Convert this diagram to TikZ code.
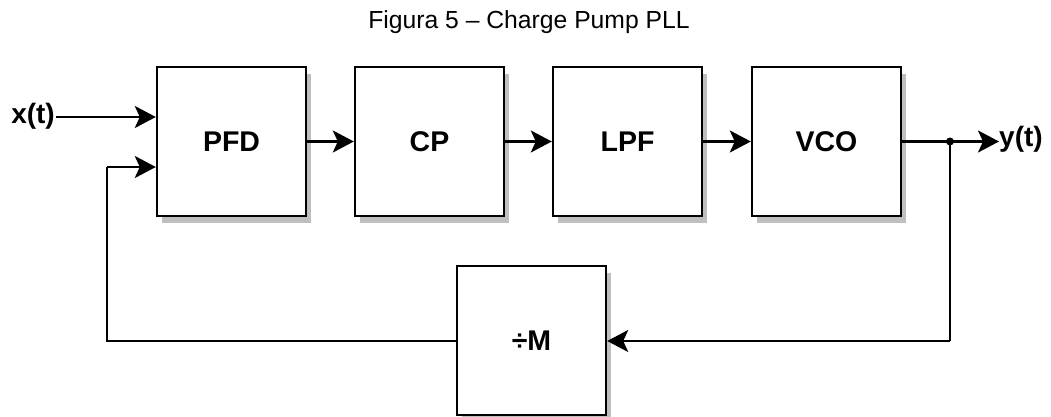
\documentclass[tikz,border=0pt]{standalone}
\usepackage{fontspec}
\setmainfont{Liberation Sans}
\usetikzlibrary{arrows.meta,shadows}
\begin{document}
\begin{tikzpicture}[x=1pt,y=-1pt,
  blk/.style={draw=black, line width=2.4pt, fill=white, minimum width=149pt, minimum height=149pt,
    inner sep=0pt, font=\bfseries\fontsize{28.5}{32}\selectfont,
    drop shadow={shadow xshift=5pt, shadow yshift=-7pt, fill=gray!50, opacity=1}},
  lbl/.style={font=\bfseries\fontsize{28}{32}\selectfont, inner sep=1pt},
  wire/.style={line width=2.4pt},
  arr/.style={wire, -{Stealth[length=21pt,width=22pt,inset=5pt]}}]
\useasboundingbox (0,0) rectangle (1051,417);
\node[font=\fontsize{24.7}{28}\selectfont, anchor=base, inner sep=0pt] (title) at (529,29) {Figura 5 -- Charge Pump PLL};
\node[blk] (pfd) at (231.5,141.5) {PFD};
\node[blk] (cp) at (429.5,141.5) {CP};
\node[blk] (lpf) at (627.5,141.5) {LPF};
\node[blk] (vco) at (826.5,141.5) {VCO};
\node[blk] (div) at (531.5,340.5) {÷M};
\node[lbl, anchor=east] (x) at (56,116) {x(t)};
\node[lbl, anchor=west] (y) at (998,139) {y(t)};
\coordinate (in1) at (pfd.west |- 0,117);
\coordinate (in2) at (pfd.west |- 0,167);
\coordinate (fbl) at (107,341);
\coordinate (fbt) at (107,167);
\coordinate (tap) at (950,141.5);
\coordinate (yend) at (999,141.5);
\coordinate (tapb) at (950,341);
\draw[arr] (x.east |- in1) -- (in1);
\draw[arr] (pfd) -- (cp);
\draw[arr] (cp) -- (lpf);
\draw[arr] (lpf) -- (vco);
\draw[arr] (vco.east) -- (yend);
\draw[wire] (div.west |- fbl) -- (fbl) -- (fbt);
\draw[arr] (fbt) -- (in2);
\draw[wire] (tap) -- (tapb);
\draw[arr] (tapb) -- (div.east |- tapb);
\fill (tap) circle (4pt);
\end{tikzpicture}
\end{document}
